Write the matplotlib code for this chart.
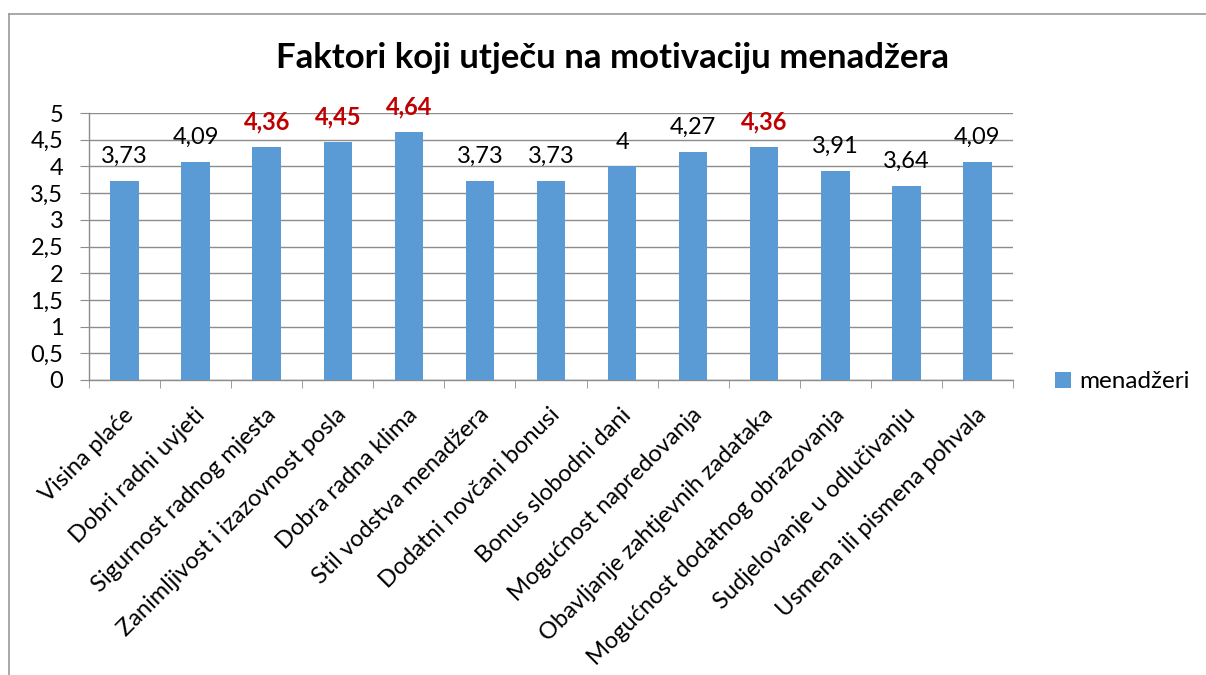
import matplotlib
matplotlib.use("Agg")
import matplotlib.pyplot as plt
from matplotlib.patches import Patch
from matplotlib.lines import Line2D
from matplotlib.ticker import FixedLocator, FuncFormatter
from matplotlib.transforms import ScaledTranslation

plt.rcParams['font.family'] = ['Lato', 'DejaVu Sans']

categories = [
    "Visina plaće", "Dobri radni uvjeti", "Sigurnost radnog mjesta",
    "Zanimljivost i izazovnost posla", "Dobra radna klima",
    "Stil vodstva menadžera", "Dodatni novčani bonusi", "Bonus slobodni dani",
    "Mogućnost napredovanja", "Obavljanje zahtjevnih zadataka",
    "Mogućnost dodatnog obrazovanja", "Sudjelovanje u odlučivanju",
    "Usmena ili pismena pohvala",
]
values = [3.73, 4.09, 4.36, 4.45, 4.64, 3.73, 3.73, 4.00, 4.27, 4.36, 3.91, 3.64, 4.09]
value_labels = ["3,73", "4,09", "4,36", "4,45", "4,64", "3,73", "3,73", "4",
                "4,27", "4,36", "3,91", "3,64", "4,09"]
highlighted = [False, False, True, True, True, False, False, False, False, True,
               False, False, False]
series_name = "menadžeri"
title = "Faktori koji utječu na motivaciju menadžera"

W, H = 1206, 675
fig = plt.figure(figsize=(W / 100, H / 100), dpi=100)
fig.patch.set_facecolor("white")

left, right, top, bottom = 89, 1013, 113, 380
ax = fig.add_axes([left / W, 1 - bottom / H, (right - left) / W, (bottom - top) / H])

bar_color = "#5B9BD5"
grid_color = "#8C8C8C"
x = list(range(len(categories)))
ax.bar(x, values, width=0.4, color=bar_color, zorder=3)

ax.set_xlim(-0.5, len(categories) - 0.5)
ax.set_ylim(0, 5)
ax.yaxis.set_major_locator(FixedLocator([i * 0.5 for i in range(11)]))
ax.yaxis.set_major_formatter(FuncFormatter(lambda v, p: (f"{v:g}").replace(".", ",")))
ax.grid(axis="y", color=grid_color, linewidth=1.0, zorder=0)
ax.set_axisbelow(True)

for s in ["top", "right"]:
    ax.spines[s].set_visible(False)
for s in ["left", "bottom"]:
    ax.spines[s].set_color(grid_color)
    ax.spines[s].set_linewidth(1.0)

ax.tick_params(axis="y", length=6.5, color=grid_color, labelsize=17, pad=12)
ax.set_xticks(x)
ax.set_xticklabels(categories, rotation=45, ha="right", va="top",
                   rotation_mode="anchor", fontsize=17)
ax.tick_params(axis="x", which="major", length=0, pad=16)
ax.set_xticks([i - 0.5 for i in range(len(categories) + 1)], minor=True)
ax.tick_params(axis="x", which="minor", length=5.5, color=grid_color)
shift = ScaledTranslation(-0.02, -0.02, fig.dpi_scale_trans)
for lbl in ax.get_xticklabels():
    lbl.set_transform(lbl.get_transform() + shift)

for xi, v, lab, hi in zip(x, values, value_labels, highlighted):
    ax.annotate(lab, (xi, v), xytext=(0, 10), textcoords="offset points",
                ha="center", va="bottom", fontsize=17,
                color="#C00000" if hi else "black",
                fontweight="bold" if hi else "normal")

fig.text(612 / W, 1 - 68 / H, title, ha="center", va="baseline",
         fontsize=25, fontweight="bold")

fig.legend(handles=[Patch(facecolor=bar_color, edgecolor="none", label=series_name)],
           loc="center left", bbox_to_anchor=(1055 / W, 1 - 382 / H),
           frameon=False, fontsize=17.5, handlelength=0.65, handleheight=0.65,
           handletextpad=0.35, borderaxespad=0, borderpad=0)

# chart area frame
fig.add_artist(Line2D([9 / W, 9 / W], [0, 1 - 14 / H], transform=fig.transFigure,
                      color="#999999", linewidth=1.2))
fig.add_artist(Line2D([9 / W, 1], [1 - 14 / H, 1 - 14 / H], transform=fig.transFigure,
                      color="#999999", linewidth=1.2))

fig.savefig("out.png", dpi=100)
